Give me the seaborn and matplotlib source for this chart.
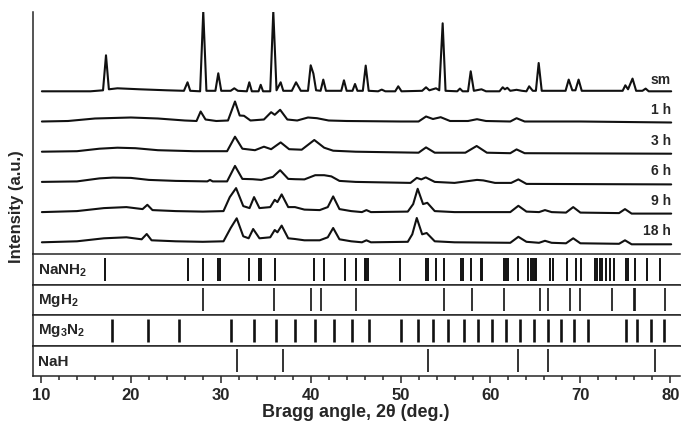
import numpy as np
import matplotlib
matplotlib.use("Agg")
import matplotlib.pyplot as plt
from matplotlib.ticker import MultipleLocator
import seaborn as sns

# XRD patterns (2theta in deg, intensity in a.u. above each baseline)
sm_2theta = [10.1, 15.5, 16.9, 17.23, 17.55, 18.5, 21, 24, 25.9, 26.3, 26.6, 27.7, 28.05, 28.4,
             29.4, 29.72, 30.05, 31.1, 31.5, 31.9, 32.9, 33.17, 33.45, 34.2, 34.44, 34.7, 35.5,
             35.84, 36.2, 36.66, 36.95, 37.9, 38.37, 38.9, 39.7, 40.0, 40.3, 40.6, 41.1, 41.4,
             41.7, 43.4, 43.7, 44.0, 44.65, 44.93, 45.2, 45.8, 46.12, 46.45, 47.5, 47.9, 48.3,
             49.4, 49.74, 50.1, 52.4, 52.83, 53.2, 53.94, 54.3, 54.68, 55.0, 56.3, 56.6, 56.9,
             57.5, 57.8, 58.15, 59.0, 59.5, 61.0, 61.36, 61.6, 61.87, 62.2, 62.9, 63.5, 64.0,
             64.3, 64.7, 65.05, 65.36, 65.7, 68.35, 68.7, 69.1, 69.45, 69.8, 70.15, 74.7, 75.0,
             75.3, 75.8, 76.2, 76.9, 77.26, 77.6, 80.1]
sm_int = [0, 0, 1, 36, 2, 3, 2, 1, 0.5, 9, 0.5, 0, 80, 0.5,
          0.5, 18, 0.5, 0.5, 3, 0.5, 0, 9, 0, 0, 6.5, 0, 0,
          80, 1, 9, 0.5, 0.5, 9, 0.5, 0.5, 26, 17.7, 1, 0.5, 11.7,
          0.5, 0.5, 11, 0.5, 0.5, 7.3, 0.5, 0.5, 25.7, 0.5, 0, 1.7, 0,
          0, 5, 0, 0.5, 4, 1, 3, 1, 68, 0.5, 0, 2.7, 0,
          0, 20, 0.5, 2, 0, 0, 4, 2, 3.5, 0.5, 1.5, 0.5, 0,
          5, 0.5, 0.5, 28.3, 0.5, 0.5, 11.7, 1, 1, 11.7, 0.5, 0.5, 6,
          2, 12.7, 0.5, 0.5, 2.7, 0, 0]

h1_2theta = [10.1, 13, 16, 20, 23, 26, 27.3, 27.76, 28.3, 29.5, 30.8, 31.58, 32.1, 32.58, 33.3,
             34.8, 35.6, 36.0, 36.6, 37.4, 38.5, 39.7, 40.7, 42, 44, 50, 52.0, 52.83, 53.6,
             54.46, 55.5, 57.5, 58.5, 59.5, 62.2, 62.9, 63.8, 70, 80.1]
h1_int = [0, 0.5, 3, 4, 3, 1, 0.5, 10, 2, 0.5, 1, 20, 6, 5.7, 1,
          2, 9.3, 6.7, 11.7, 2, 1, 4, 3.3, 1, 0.5, 0, 0, 5, 2.5,
          4.3, 0.5, 0.5, 2.3, 0.5, 0, 3.3, 0, 0, -1]

h3_2theta = [10.1, 14, 16.5, 18.5, 20.5, 23, 27, 30.7, 31.58, 32.4, 33.8, 34.8, 35.6, 36.66,
             37.6, 39, 40.4, 41.5, 42.5, 45, 52.0, 52.83, 53.8, 57.2, 58.46, 59.6, 62.2, 62.9,
             63.8, 80.1]
h3_int = [0, 0.5, 3, 4, 3.5, 1.5, 0.5, 0.5, 15, 3, 1.5, 5, 2.5, 9.3,
          2.5, 2, 11.7, 4, 1, 0, -1, 4.3, -1, -1, 5.7, -1, -1.5, 2.3,
          -1.5, -2]

h6_2theta = [10.1, 14, 16.5, 18, 20, 22, 25, 28.5, 28.8, 29.1, 30.7, 31.58, 32.4, 33.55, 34.5,
             35.8, 36.6, 37.5, 38.3, 39.3, 40.5, 41.5, 42.3, 43.2, 45, 51.1, 51.8, 52.3, 52.8,
             53.8, 56, 58.5, 59.2, 60.5, 62.3, 63.1, 64, 80.1]
h6_int = [0, 0.5, 3.5, 4.3, 4, 2, 1, 0.5, 2, 0.5, 0.5, 16, 3, 2.7, 2,
          5, 11.7, 3, 2.7, 2.5, 6.7, 6.7, 5.5, 1, 0, -1, 4, 2.5, 4.5,
          0, -1, 2, 1.5, -1, -1, 2.5, -2, -2.5]

h9_2theta = [10.1, 14, 17, 19.5, 21.3, 21.83, 22.4, 25, 28, 30.3, 31.0, 31.7, 32.5, 33.2, 33.7,
             34.3, 35.5, 36.0, 36.3, 36.77, 37.5, 38.25, 39.3, 41, 41.9, 42.5, 43.2, 44.5, 45.7,
             46.2, 46.7, 50.8, 51.4, 51.9, 52.5, 52.97, 53.8, 56, 62.2, 63.1, 64, 65.4, 66.06,
             66.8, 68.4, 69.2, 70, 74.3, 74.96, 75.7, 80.1]
h9_int = [0, 1, 4, 5, 3, 7.3, 2, 1, 0.5, 1, 15, 24, 6, 4, 15,
          4, 5, 12.3, 10, 17.7, 5, 5, 2.5, 2, 5, 15.7, 3, 1, 0,
          2, 0, 0.5, 8, 23.3, 8, 9.3, 1, 0, 0, 6.3, 0.5, 0, 2,
          0, -0.5, 5, -0.5, -1, 3, -1.5, -1.5]

h18_2theta = [10.1, 14, 17, 19.5, 21.2, 21.76, 22.3, 25, 28, 30.3, 31.1, 31.77, 32.5, 33.1, 33.6,
              34.3, 35.5, 36.0, 36.3, 36.77, 37.5, 38.25, 39.3, 41, 41.9, 42.5, 43.2, 44.5, 45.7,
              46.2, 46.7, 50.8, 51.3, 51.8, 52.4, 52.9, 53.8, 56, 62.2, 63.1, 64, 65.4, 66.06,
              66.8, 68.4, 69.2, 70, 74.3, 74.96, 75.7, 80.1]
h18_int = [0, 1, 4, 5, 3, 8.3, 2, 1, 0.5, 1, 14.3, 24, 6, 4, 13.3,
           4, 5, 12.3, 10, 16.7, 4, 3.3, 2, 2, 5, 14.3, 3, 1, 0,
           2, 0, 0.5, 8, 24.3, 8, 9.3, 1, 0, -0.5, 5.5, 0.5, -0.5, 1.5,
           -0.5, -1, 4, -1, -1.5, 2, -2, -2]

sample_labels = ["18 h", "9 h", "6 h", "3 h", "1 h", "sm"]

# reference phase reflections
phase_labels = [r"NaNH$_\mathbf{2}$", r"MgH$_\mathbf{2}$", r"Mg$_\mathbf{3}$N$_\mathbf{2}$", "NaH"]
nanh2_pos = [17.1, 26.3, 28.0, 29.7, 29.9, 33.1, 34.3, 34.5, 36.0, 40.4, 41.5, 43.8, 45.0, 46.0,
             46.2, 46.4, 49.9, 52.8, 53.1, 53.9, 54.8, 56.7, 56.9, 57.8, 58.9, 59.1, 61.5, 61.7,
             62.0, 63.1, 64.2, 64.5, 64.7, 64.9, 65.1, 66.6, 67.0, 68.5, 69.5, 70.1, 71.6, 71.8,
             72.2, 72.4, 72.9, 73.3, 73.7, 75.1, 75.3, 76.1, 77.4, 78.8]
mgh2_pos = [28.0, 35.9, 40.0, 41.2, 45.0, 54.8, 57.9, 61.5, 65.5, 66.4, 68.8, 70.0, 73.5, 76.0,
            76.1, 79.4]
mg3n2_pos = [17.9, 21.9, 25.3, 31.1, 33.7, 36.1, 38.3, 40.5, 42.6, 44.6, 46.5, 50.1, 51.9, 53.6,
             55.3, 57.0, 58.6, 60.2, 61.7, 63.3, 64.8, 66.4, 67.8, 69.3, 70.8, 75.1, 76.3, 77.9,
             79.3]
nah_pos = [31.8, 36.9, 53.1, 63.1, 66.4, 78.3]

sns.set_style("ticks")
plt.rcParams["font.family"] = ["Liberation Sans", "DejaVu Sans"]
plt.rcParams["mathtext.fontset"] = "custom"
plt.rcParams["mathtext.rm"] = "Liberation Sans"
plt.rcParams["mathtext.bf"] = "Liberation Sans:bold"

W, H = 681, 431
fig = plt.figure(figsize=(W / 100, H / 100), dpi=100)

XLIM = (9.055, 81.08)
left = 32.5 / W
width = (680 - 32.5) / W
spine_lw = 1.1
ink = "#111111"

# main pattern axes
ax = fig.add_axes([left, 1 - 255 / H, width, (255 - 12.7) / H])
patterns = [(h18_2theta, h18_int), (h9_2theta, h9_int), (h6_2theta, h6_int),
            (h3_2theta, h3_int), (h1_2theta, h1_int), (sm_2theta, sm_int)]
for k, ((tt, ii), lab) in enumerate(zip(patterns, sample_labels)):
    off = 11.7 + 30.2 * k
    sns.lineplot(x=np.array(tt), y=np.array(ii) + off, ax=ax, color=ink, lw=1.5,
                 sort=False, estimator=None)
    ax.text(80.08, off + 5, lab, ha="right", va="bottom", fontsize=10, fontweight="bold")
ax.set_xlim(XLIM)
ax.set_ylim(0, 242.3)
ax.set_xticks([])
ax.set_yticks([])
ax.set_xlabel("")
ax.set_ylabel("")
for s in ["top", "right", "bottom"]:
    ax.spines[s].set_visible(False)
ax.spines["left"].set_linewidth(spine_lw)

# stick panels
bounds = [255, 285.5, 315.5, 346.5, 376.7]
stick_sets = [nanh2_pos, mgh2_pos, mg3n2_pos, nah_pos]
stick_lw = [1.4, 1.2, 1.9, 1.2]
for j, (pos, lab) in enumerate(zip(stick_sets, phase_labels)):
    top, bot = bounds[j], bounds[j + 1]
    pax = fig.add_axes([left, 1 - bot / H, width, (bot - top) / H])
    pax.vlines(pos, 0.12, 0.87, color=ink, lw=stick_lw[j])
    pax.set_xlim(XLIM)
    pax.set_ylim(0, 1)
    pax.set_yticks([])
    pax.spines["right"].set_visible(False)
    for s in ["top", "bottom", "left"]:
        pax.spines[s].set_linewidth(spine_lw)
    pax.text(0.008, 0.5, lab, transform=pax.transAxes, ha="left", va="center",
             fontsize=11, fontweight="bold")
    if j < 3:
        pax.set_xticks([])
    else:
        pax.xaxis.set_major_locator(MultipleLocator(10))
        pax.xaxis.set_minor_locator(MultipleLocator(2))
        pax.tick_params(axis="x", which="major", length=5, width=1.1, pad=3,
                        labelsize=12)
        pax.tick_params(axis="x", which="minor", length=3, width=1.1)
        for t in pax.get_xticklabels():
            t.set_fontweight("bold")
        pax.set_xlabel("Bragg angle, 2θ (deg.)", fontsize=13, fontweight="bold", labelpad=1)

fig.text(17 / W, 1 - 207 / H, "Intensity (a.u.)", rotation=90, ha="center", va="center",
         fontsize=12, fontweight="bold")

fig.savefig("out.png", dpi=100)
